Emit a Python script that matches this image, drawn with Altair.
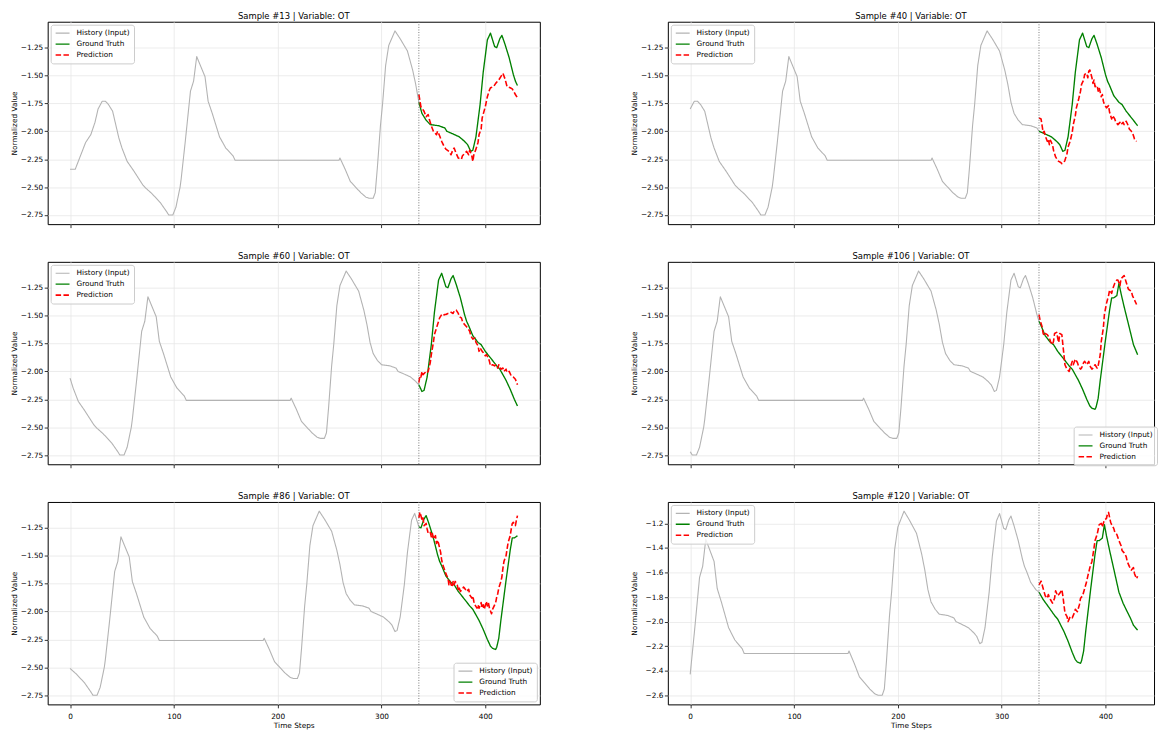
import altair as alt
import pandas as pd

FONT = "DejaVu Sans"

# Underlying normalized OT series, indexed by absolute time step
OT_TIME = [13, 18, 23, 28, 33, 37, 40, 44, 47, 50, 54, 60, 63, 68, 74, 83, 86, 92, 100, 106,
           108, 112, 115, 119, 120, 124, 129, 132, 135, 139, 143, 146, 150, 157, 163, 170, 172,
           272, 273, 278, 283, 288, 293, 298, 301, 305, 307, 309, 312, 314, 317, 320, 326, 331,
           338, 343, 346, 349, 352, 356, 360, 368, 374, 376, 381, 388, 393, 396, 399, 401, 404,
           408, 411, 415, 418, 421, 422, 424, 427, 429, 432, 436, 440, 442, 444, 448, 453, 456,
           460, 466, 471, 474, 477, 480, 484, 488, 491, 493, 496, 497, 499, 501, 506, 510, 512,
           514, 517, 519, 521, 524, 528, 533, 537, 541, 544, 547, 551]
OT_VALUE = [-2.34, -2.34, -2.22, -2.10, -2.03, -1.92, -1.80, -1.73, -1.73, -1.76, -1.82, -2.06,
            -2.15, -2.27, -2.35, -2.48, -2.51, -2.56, -2.64, -2.72, -2.75, -2.75, -2.68, -2.50,
            -2.43, -2.09, -1.64, -1.55, -1.33, -1.42, -1.51, -1.73, -1.84, -2.05, -2.15, -2.22,
            -2.26, -2.26, -2.24, -2.34, -2.45, -2.50, -2.55, -2.59, -2.60, -2.60, -2.55, -2.33,
            -1.95, -1.76, -1.41, -1.23, -1.10, -1.17, -1.28, -1.45, -1.58, -1.74, -1.84, -1.90,
            -1.94, -1.95, -1.97, -2.00, -2.02, -2.05, -2.09, -2.12, -2.18, -2.17, -2.05, -1.76,
            -1.47, -1.18, -1.12, -1.21, -1.24, -1.25, -1.17, -1.14, -1.22, -1.34, -1.49, -1.55,
            -1.59, -1.68, -1.74, -1.76, -1.82, -1.89, -1.95, -1.98, -2.03, -2.08, -2.16, -2.25,
            -2.31, -2.33, -2.34, -2.32, -2.24, -2.08, -1.72, -1.45, -1.34, -1.34, -1.32, -1.21,
            -1.30, -1.42, -1.57, -1.76, -1.85, -1.92, -1.97, -2.03, -2.07]

# panel grid: rows of (left, right) sample ids
LAYOUT = [[13, 40], [60, 106], [86, 120]]
HIST_LEN = 336
LAST_STEP = 431

PRED_13 = [(336, -1.67), (338, -1.78), (341, -1.82), (343, -1.87), (345, -1.85), (346, -1.89),
           (348, -1.95), (350, -2.00), (353, -2.03), (354, -2.00), (356, -2.04), (358, -2.09),
           (360, -2.13), (362, -2.16), (365, -2.18), (367, -2.21), (369, -2.16), (370, -2.15),
           (372, -2.20), (374, -2.24), (377, -2.25), (378, -2.22), (381, -2.19), (382, -2.18),
           (384, -2.21), (385, -2.17), (387, -2.22), (388, -2.27), (389, -2.21), (391, -2.16),
           (393, -2.10), (394, -2.03), (396, -1.98), (397, -1.88), (400, -1.78), (402, -1.69),
           (404, -1.63), (405, -1.61), (408, -1.60), (410, -1.57), (413, -1.54), (415, -1.51),
           (417, -1.48), (419, -1.53), (421, -1.60), (424, -1.61), (426, -1.62), (429, -1.67),
           (431, -1.70)]
PRED_40 = [(336, -1.88), (338, -1.89), (339, -1.95), (340, -2.01), (341, -2.00), (342, -2.04),
           (344, -2.09), (345, -2.07), (346, -2.12), (347, -2.08), (349, -2.12), (350, -2.17),
           (351, -2.20), (352, -2.23), (354, -2.26), (355, -2.27), (357, -2.28), (358, -2.29),
           (360, -2.28), (361, -2.26), (363, -2.20), (364, -2.14), (366, -2.09), (368, -2.01),
           (369, -1.94), (371, -1.86), (372, -1.79), (374, -1.72), (376, -1.64), (377, -1.58),
           (379, -1.54), (380, -1.49), (382, -1.48), (383, -1.52), (384, -1.46), (385, -1.45),
           (387, -1.52), (388, -1.57), (389, -1.54), (390, -1.60), (392, -1.59), (393, -1.64),
           (394, -1.61), (396, -1.69), (397, -1.67), (398, -1.73), (399, -1.76), (401, -1.79),
           (403, -1.77), (404, -1.83), (406, -1.89), (407, -1.86), (409, -1.89), (410, -1.92),
           (412, -1.94), (414, -1.92), (415, -1.94), (417, -1.92), (418, -1.94), (420, -1.91),
           (422, -1.95), (423, -1.98), (425, -2.00), (426, -2.01), (428, -2.07), (430, -2.09)]
PRED_60 = [(336, -2.10), (337, -2.04), (338, -2.05), (339, -2.00), (340, -2.03), (342, -2.01),
           (343, -2.02), (345, -2.00), (347, -1.92), (348, -1.85), (350, -1.74), (351, -1.67),
           (353, -1.61), (355, -1.55), (356, -1.52), (358, -1.49), (359, -1.50), (361, -1.49),
           (362, -1.49), (364, -1.48), (366, -1.48), (367, -1.47), (369, -1.48), (370, -1.46),
           (372, -1.45), (374, -1.48), (375, -1.51), (377, -1.52), (378, -1.55), (380, -1.58),
           (382, -1.60), (383, -1.61), (385, -1.64), (386, -1.68), (388, -1.71), (390, -1.70),
           (391, -1.74), (393, -1.77), (394, -1.82), (395, -1.79), (397, -1.82), (398, -1.83),
           (400, -1.86), (401, -1.85), (403, -1.88), (404, -1.91), (405, -1.95), (407, -1.94),
           (409, -1.95), (410, -1.94), (412, -1.97), (413, -1.94), (415, -1.98), (417, -1.97),
           (418, -2.00), (420, -1.98), (421, -2.01), (423, -2.00), (425, -2.04), (427, -2.05),
           (429, -2.07), (431, -2.12)]
PRED_86 = [(336, -1.16), (337, -1.11), (338, -1.14), (339, -1.18), (340, -1.16), (341, -1.23),
           (343, -1.21), (344, -1.26), (345, -1.30), (347, -1.29), (348, -1.33), (349, -1.30),
           (350, -1.35), (352, -1.32), (353, -1.39), (354, -1.36), (355, -1.39), (357, -1.47),
           (358, -1.54), (359, -1.58), (361, -1.63), (362, -1.66), (364, -1.70), (365, -1.76),
           (366, -1.73), (368, -1.78), (369, -1.73), (370, -1.76), (371, -1.73), (373, -1.76),
           (374, -1.81), (375, -1.79), (376, -1.82), (378, -1.80), (379, -1.78), (380, -1.79),
           (382, -1.82), (383, -1.81), (384, -1.80), (385, -1.85), (387, -1.88), (388, -1.86),
           (389, -1.91), (390, -1.94), (392, -1.97), (393, -1.94), (394, -1.97), (396, -1.92),
           (397, -1.97), (398, -1.94), (399, -1.98), (401, -1.91), (402, -1.95), (403, -1.92),
           (404, -1.97), (406, -2.02), (407, -1.98), (408, -1.96), (410, -1.92), (411, -1.87),
           (412, -1.84), (413, -1.79), (415, -1.73), (416, -1.69), (417, -1.61), (418, -1.55),
           (420, -1.50), (421, -1.44), (422, -1.38), (424, -1.32), (425, -1.26), (426, -1.21),
           (427, -1.20), (429, -1.23), (430, -1.18), (431, -1.14)]
PRED_106 = [(336, -1.49), (337, -1.54), (339, -1.60), (340, -1.66), (341, -1.68), (342, -1.66),
            (344, -1.67), (346, -1.70), (347, -1.73), (349, -1.76), (350, -1.73), (351, -1.66),
            (353, -1.65), (354, -1.70), (355, -1.74), (356, -1.66), (358, -1.67), (359, -1.76),
            (360, -1.85), (361, -1.94), (363, -1.98), (365, -2.00), (366, -1.97), (368, -1.91),
            (369, -1.94), (371, -1.89), (373, -1.92), (374, -1.95), (376, -1.98), (377, -1.97),
            (379, -1.92), (380, -1.91), (382, -1.94), (384, -1.91), (385, -1.95), (387, -1.98),
            (388, -1.97), (390, -1.94), (392, -1.97), (393, -1.95), (395, -1.85), (396, -1.73),
            (398, -1.61), (399, -1.49), (401, -1.39), (403, -1.32), (404, -1.27), (406, -1.30),
            (407, -1.26), (409, -1.21), (411, -1.18), (412, -1.18), (414, -1.23), (415, -1.17),
            (417, -1.15), (418, -1.14), (420, -1.20), (422, -1.26), (423, -1.27), (425, -1.28),
            (426, -1.32), (428, -1.36), (430, -1.40)]
PRED_120 = [(336, -1.70), (338, -1.67), (340, -1.73), (342, -1.79), (344, -1.81), (345, -1.78),
            (347, -1.82), (349, -1.85), (351, -1.81), (352, -1.75), (354, -1.79), (356, -1.77),
            (358, -1.74), (359, -1.79), (361, -1.93), (363, -1.96), (364, -2.00), (366, -1.96),
            (368, -1.97), (370, -1.93), (371, -1.90), (373, -1.92), (375, -1.86), (376, -1.81),
            (378, -1.79), (380, -1.73), (382, -1.67), (383, -1.63), (385, -1.56), (387, -1.51),
            (389, -1.40), (390, -1.34), (392, -1.29), (394, -1.21), (396, -1.20), (397, -1.23),
            (399, -1.17), (401, -1.16), (402, -1.12), (403, -1.11), (405, -1.19), (406, -1.21),
            (408, -1.24), (409, -1.27), (411, -1.29), (413, -1.34), (415, -1.38), (416, -1.42),
            (418, -1.44), (420, -1.47), (421, -1.51), (423, -1.55), (425, -1.58), (427, -1.56),
            (428, -1.61), (430, -1.65), (431, -1.63)]
PREDICTIONS = {13: PRED_13, 40: PRED_40, 60: PRED_60, 86: PRED_86, 106: PRED_106, 120: PRED_120}

LEGEND_CORNER = {13: "top-left", 40: "top-left", 60: "top-left",
                 106: "bottom-right", 86: "bottom-right", 120: "top-left"}

SERIES_NAMES = ["History (Input)", "Ground Truth", "Prediction"]
SERIES_COLORS = ["#b3b3b3", "#008000", "#ff0000"]
SERIES_DASH = [[1, 0], [1, 0], [5.5, 2.4]]
SERIES_WIDTH = [1.1, 1.6, 1.6]

X_TICKS = [0, 100, 200, 300, 400]
Y_TICKS_QUARTER = [-2.75, -2.5, -2.25, -2.0, -1.75, -1.5, -1.25]
Y_TICKS_FINE = [-2.6, -2.4, -2.2, -2.0, -1.8, -1.6, -1.4, -1.2]
Y_TICKS = {120: (Y_TICKS_FINE, ".1f")}

W_LEFT, W_RIGHT, H = 496, 490, 204
W_FULL = 496                       # un-cropped width of a panel (right column runs off the page)
LEG_W, LEG_H = 84, 35
X_SPAN = LAST_STEP * 1.1          # matplotlib 5% margins
X_MIN = -LAST_STEP * 0.05


def panel(s, right, bottom):
    recs = []
    for t, v in zip(OT_TIME, OT_VALUE):
        if s <= t <= s + HIST_LEN:
            recs.append({"step": t - s, "value": v, "series": SERIES_NAMES[0]})
        if s + HIST_LEN <= t <= s + LAST_STEP:
            recs.append({"step": t - s, "value": v, "series": SERIES_NAMES[1]})
    for x, v in PREDICTIONS[s]:
        recs.append({"step": x, "value": v, "series": SERIES_NAMES[2]})
    df = pd.DataFrame(recs)
    lo, hi = df["value"].min(), df["value"].max()
    m = 0.05 * (hi - lo)
    ydom = [lo - m, hi + m]

    w = W_RIGHT if right else W_LEFT
    px_per_unit = W_FULL / X_SPAN
    xdom = [X_MIN, X_MIN + w / px_per_unit]

    yt, yf = Y_TICKS.get(s, (Y_TICKS_QUARTER, ".2f"))
    yaxis = alt.Axis(values=yt, format=yf, title="Normalized Value",
                     minExtent=27.5, maxExtent=27.5, titlePadding=2)
    if bottom:
        xaxis = alt.Axis(values=X_TICKS, format="d", title="Time Steps", titlePadding=1,
                         labelPadding=5)
    else:
        xaxis = alt.Axis(values=X_TICKS, labels=False, title=None)

    leg_kw = dict(title=None, padding=4,
                  fillColor="rgba(255,255,255,0.8)", strokeColor="#cccccc",
                  cornerRadius=2.5, labelFontSize=7.4, labelFont=FONT, labelColor="black",
                  symbolType="stroke", symbolSize=196, symbolStrokeWidth=1.6,
                  labelOffset=6, rowPadding=2, clipHeight=9)
    corner = LEGEND_CORNER[s]
    if right and corner == "bottom-right":
        # anchored to the right edge of the full (page-cropped) axes
        leg = alt.Legend(orient="none", legendX=W_FULL - 3 - LEG_W, legendY=H - 3 - LEG_H,
                         **leg_kw)
    else:
        leg = alt.Legend(orient=corner, offset=3, **leg_kw)

    lines = alt.Chart(df).mark_line(strokeJoin="round").encode(
        x=alt.X("step:Q", scale=alt.Scale(domain=xdom, nice=False, zero=False), axis=xaxis),
        y=alt.Y("value:Q", scale=alt.Scale(domain=ydom, nice=False, zero=False), axis=yaxis),
        color=alt.Color("series:N", scale=alt.Scale(domain=SERIES_NAMES, range=SERIES_COLORS),
                        legend=leg),
        strokeDash=alt.StrokeDash("series:N",
                                  scale=alt.Scale(domain=SERIES_NAMES, range=SERIES_DASH),
                                  legend=leg),
        strokeWidth=alt.StrokeWidth("series:N",
                                    scale=alt.Scale(domain=SERIES_NAMES, range=SERIES_WIDTH),
                                    legend=None),
    )
    split = alt.Chart(pd.DataFrame({"step": [HIST_LEN]})).mark_rule(
        color="#7a7a7a", strokeWidth=1, strokeDash=[1, 1.6]
    ).encode(x="step:Q")

    return alt.layer(lines, split).properties(
        width=w, height=H,
        title=alt.TitleParams(f"Sample #{s} | Variable: OT", lineHeight=9),
    )


RES = dict(color="independent", strokeDash="independent", strokeWidth="independent")
rows = []
for i, (a, b) in enumerate(LAYOUT):
    last = i == len(LAYOUT) - 1
    rows.append(alt.hconcat(panel(a, False, last), panel(b, True, last),
                            spacing=90).resolve_scale(**RES))

chart = alt.vconcat(*rows, spacing=22).resolve_scale(**RES)

chart = chart.configure(
    font=FONT, padding={"left": 2, "top": 0, "right": 0, "bottom": 0}
).configure_view(
    stroke="black", strokeWidth=1
).configure_title(
    font=FONT, fontSize=8.5, fontWeight="normal", color="black", offset=1, anchor="middle"
).configure_axis(
    labelFont=FONT, labelFontSize=7.4, labelColor="black", labelPadding=1.5,
    titleFont=FONT, titleFontSize=7.4, titleFontWeight="normal", titleColor="black",
    tickColor="black", tickSize=3.5, tickWidth=0.8, domain=False,
    grid=True, gridColor="#e7e7e7", gridWidth=0.8, labelOverlap=False, labelFlush=False
)

chart.save("out.html", embed_options={"renderer": "svg", "actions": False})
